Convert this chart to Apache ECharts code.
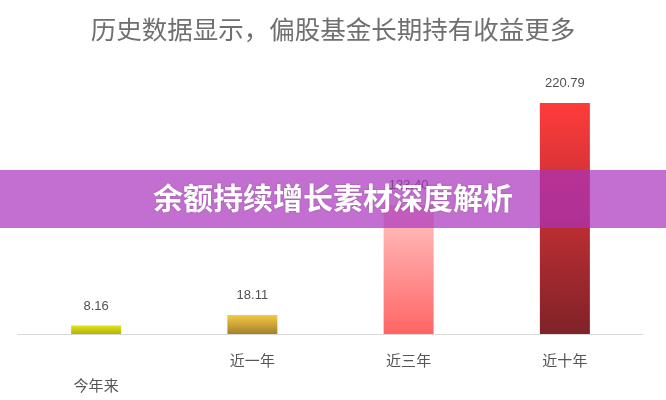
<!DOCTYPE html>
<html>
<head>
<meta charset="utf-8">
<script src="https://cdn.jsdelivr.net/npm/echarts@6/dist/echarts.min.js"></script>
<style>html,body{margin:0;padding:0;background:#fff}#c{width:666px;height:400px}</style>
</head>
<body>
<div id="c"></div>
<script>
var categories = ['今年来', '近一年', '近三年', '近十年'];
var values = [8.16, 18.11, 123.4, 220.79];
var titleText = '历史数据显示，偏股基金长期持有收益更多';
var bannerText = '余额持续增长素材深度解析';
var gradients = [
  ['#e2e41e', '#b5b300'],
  ['#f6c944', '#a4802c'],
  ['#ffc6c6', '#ff6565'],
  ['#ff3b3b', '#7f2229']
];

var chart = echarts.init(document.getElementById('c'), null, {renderer: 'canvas'});
var data = values.map(function (v, i) {
  return {
    value: v,
    itemStyle: {
      color: new echarts.graphic.LinearGradient(0, 0, 0, 1, [
        {offset: 0, color: gradients[i][0]},
        {offset: 1, color: gradients[i][1]}
      ])
    }
  };
});
chart.setOption({
  animation: false,
  backgroundColor: '#fff',
  title: {
    text: titleText,
    left: 'center',
    top: 12,
    textStyle: {color: '#6f6f6f', fontSize: 25.5, fontWeight: 'normal', fontFamily: 'Noto Sans CJK SC'}
  },
  grid: {left: 18, right: 23, top: 103, bottom: 66, containLabel: false},
  xAxis: {
    type: 'category',
    data: categories,
    axisLine: {lineStyle: {color: '#d9d9d9', width: 1}},
    axisTick: {show: false},
    axisLabel: {
      color: '#555',
      fontSize: 15,
      margin: 14,
      lineHeight: 25,
      fontFamily: 'Noto Sans CJK SC',
      formatter: function (v, i) { return i === 0 ? '\n' + v : v; }
    }
  },
  yAxis: {
    type: 'value',
    min: 0,
    max: 220.79,
    show: false,
    splitLine: {show: false}
  },
  series: [{
    type: 'bar',
    data: data,
    barWidth: 50,
    label: {
      show: true,
      position: 'top',
      distance: 13,
      color: '#505050',
      fontSize: 13,
      fontFamily: 'Liberation Sans',
      formatter: function (p) { return p.value.toFixed(2); }
    }
  }],
  graphic: [
    {
      type: 'rect',
      z: 100,
      shape: {x: 0, y: 170, width: 666, height: 58},
      style: {fill: 'rgba(170,50,190,0.7)'}
    },
    {
      type: 'text',
      z: 101,
      left: 'center',
      top: 183,
      style: {
        text: bannerText,
        fill: '#fff',
        font: 'bold 30px "Noto Sans CJK SC"',
        textShadowColor: 'rgba(0,0,0,0.25)',
        textShadowBlur: 2
      }
    }
  ]
});
</script>
</body>
</html>
